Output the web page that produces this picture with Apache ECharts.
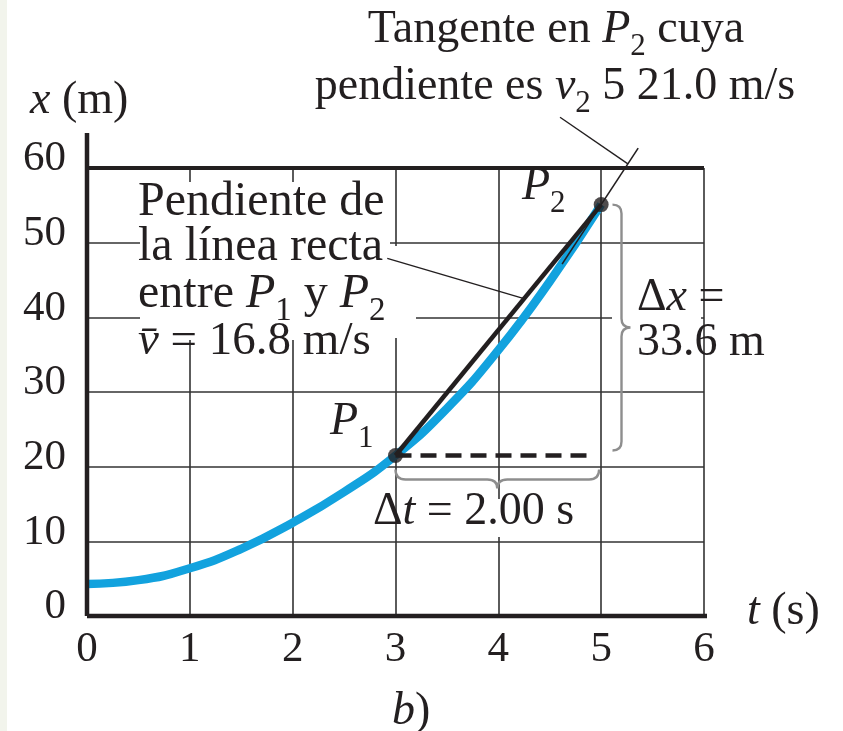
<!DOCTYPE html>
<html>
<head>
<meta charset="utf-8">
<script src="https://cdn.jsdelivr.net/npm/echarts@6/dist/echarts.min.js"></script>
<style>
  html, body { margin: 0; padding: 0; background: #ffffff; }
  #chart { width: 843px; height: 731px; }
</style>
</head>
<body>
<div id="chart"></div>
<script>
// Position x (m) against time t (s)
const curveT = [0, 0.5, 1, 1.5, 2, 2.5, 3, 3.5, 4, 4.5, 5];
const curveX = [4.3, 4.8, 6.4, 9.0, 12.5, 16.6, 21.5, 27.8, 35.6, 44.8, 55.1];

// Marked points P1 and P2 (t, x)
const p1 = [3, 21.5];
const p2 = [5, 55.1];

// Tangent at P2 (m/s) and the time range it is drawn over
const tangentSlope = 21.0;
const tangentRange = [4.62, 5.36];

// Axis ticks
const tTicks = [0, 1, 2, 3, 4, 5, 6];
const xTicks = [0, 10, 20, 30, 40, 50, 60];

const serif = "'Liberation Serif','Times New Roman',serif";
const ink = '#231f20';
const blue = '#12a2de';

const deltaT = p2[0] - p1[0];
const deltaX = p2[1] - p1[1];
const vAvg = deltaX / deltaT;

const curveData = curveT.map((t, i) => [t, curveX[i]]);
const tangentData = tangentRange.map(t => [t, p2[1] + tangentSlope * (t - p2[0])]);

const chart = echarts.init(document.getElementById('chart'), null, { renderer: 'canvas' });

// Curly brace between two pixel points, bulging along unit normal n
function bracePath(a, b, n, d, tip) {
  const L = Math.hypot(b[0] - a[0], b[1] - a[1]);
  const u = [(b[0] - a[0]) / L, (b[1] - a[1]) / L];
  const m = [(a[0] + b[0]) / 2, (a[1] + b[1]) / 2];
  const pt = (p, su, sn) => [p[0] + u[0] * su + n[0] * sn, p[1] + u[1] * su + n[1] * sn];
  const f = p => p[0].toFixed(1) + ' ' + p[1].toFixed(1);
  return 'M' + f(a) + ' Q' + f(pt(a, 0, d)) + ' ' + f(pt(a, d, d)) +
    ' L' + f(pt(m, -d, d)) + ' Q' + f(pt(m, 0, d)) + ' ' + f(pt(m, 0, d + tip)) +
    ' Q' + f(pt(m, 0, d)) + ' ' + f(pt(m, d, d)) +
    ' L' + f(pt(b, -d, d)) + ' Q' + f(pt(b, 0, d)) + ' ' + f(b);
}

// Text made of runs: 'n' upright, 'i' italic, 's' subscript
const measureCtx = document.createElement('canvas').getContext('2d');
function runFont(kind, size) {
  const sz = kind === 's' ? Math.round(size * 0.68) : size;
  return (kind === 'i' ? 'italic ' : '') + sz + 'px ' + serif;
}
function label(x, y, runs, align, size) {
  const sz = size || 46;
  const widths = runs.map(r => { measureCtx.font = runFont(r[0], sz); return measureCtx.measureText(r[1]).width; });
  const total = widths.reduce((a, b) => a + b, 0);
  let cx = align === 'center' ? x - total / 2 : x;
  const children = runs.map((r, k) => {
    const el = {
      type: 'text', x: cx, y: r[0] === 's' ? y + sz * 0.36 : y, z: 20, silent: true,
      style: {
        text: r[1], font: runFont(r[0], sz), fill: ink,
        align: 'left', verticalAlign: 'middle', textAlign: 'left', textVerticalAlign: 'middle'
      }
    };
    cx += widths[k];
    return el;
  });
  return { type: 'group', z: 20, silent: true, children: children };
}

function mask(x, y, w, h) {
  return { type: 'rect', z: 1, silent: true, shape: { x: x, y: y, width: w, height: h }, style: { fill: '#ffffff' } };
}

function plainLine(name, data, width, extra) {
  return Object.assign({
    name: name, type: 'line', data: data, showSymbol: false, symbol: 'none',
    clip: false, silent: true, animation: false,
    lineStyle: { color: ink, width: width }, z: 4
  }, extra || {});
}

const option = {
  animation: false,
  backgroundColor: '#ffffff',
  grid: { left: 87, top: 168, width: 617, height: 448, containLabel: false },
  xAxis: {
    type: 'value', min: tTicks[0], max: tTicks[tTicks.length - 1], interval: 1,
    axisLine: { show: false }, axisTick: { show: false },
    axisLabel: { fontSize: 43, fontFamily: serif, color: ink, margin: 12 },
    splitLine: { show: true, lineStyle: { color: '#333333', width: 1.6 } }
  },
  yAxis: {
    type: 'value', min: xTicks[0], max: xTicks[xTicks.length - 1], interval: 10,
    axisLine: { show: false }, axisTick: { show: false },
    axisLabel: { fontSize: 43, fontFamily: serif, color: ink, margin: 21, verticalAlign: 'bottom', lineHeight: 18 },
    splitLine: { show: true, lineStyle: { color: '#333333', width: 1.6 } }
  },
  series: [
    // frame and axes
    plainLine('top', [[tTicks[0], 60], [tTicks[6], 60]], 4),
    plainLine('tAxis', [[0, 0], [6.34, 0]], 4.5),
    plainLine('xAxis', [[0, 0], [0, 64.7]], 4.5),
    // x(t) curve
    {
      name: 'x(t)', type: 'line', data: curveData, smooth: true, showSymbol: false,
      symbol: 'none', silent: true, z: 3,
      lineStyle: { color: blue, width: 8.5, cap: 'butt' }
    },
    // chord P1-P2
    plainLine('chord', [p1, p2], 4.5, { z: 5 }),
    // tangent at P2
    plainLine('tangent', tangentData, 1.6, { z: 5 }),
    // horizontal dashed line from P1
    plainLine('dt', [p1, [4.94, p1[1]]], 4.5, {
      lineStyle: { color: ink, width: 4.5, type: [16, 9] }
    }),
    // leader lines
    plainLine('leaderChord', [[2.92, 47.9], [4.25, p1[1] + vAvg * (4.25 - p1[0])]], 1.4),
    plainLine('leaderTangent', [[4.6, 66.8], [5.26, p2[1] + tangentSlope * (5.26 - p2[0])]], 1.4),
    // braces
    {
      type: 'custom', coordinateSystem: 'cartesian2d', silent: true, z: 4,
      data: [[p1[0], p1[1]]],
      renderItem: function (params, api) {
        const a1 = api.coord([p1[0], p1[1]]);
        const b1 = api.coord([4.98, p1[1]]);
        const hA = [a1[0], a1[1] + 14];
        const hB = [b1[0], b1[1] + 14];
        const vA = api.coord([5.11, p2[1]]);
        const vB = api.coord([5.11, p1[1]]);
        vB[1] -= 5;
        const st = { fill: 'none', stroke: '#8e8e8e', lineWidth: 2.4 };
        return {
          type: 'group',
          children: [
            { type: 'path', shape: { pathData: bracePath(hA, hB, [0, 1], 10, 9) }, style: st },
            { type: 'path', shape: { pathData: bracePath(vA, vB, [1, 0], 9, 9) }, style: st }
          ]
        };
      }
    },
    // P1 and P2 points
    {
      type: 'scatter', data: [p1, p2], symbol: 'circle', symbolSize: 15, silent: true, z: 6,
      itemStyle: { color: ink }
    }
  ],
  graphic: [
    { type: 'rect', z: 0, silent: true, shape: { x: 0, y: 0, width: 7, height: 731 }, style: { fill: '#f2f4ec' } },
    // white backing behind annotation text
    mask(140, 182, 250, 158),
    mask(388, 246, 10, 92),
    mask(388, 313, 28, 10),
    mask(612, 313, 89, 10),
    mask(490, 499, 14, 38),
    // axis titles
    label(30, 101, [['i', 'x'], ['n', ' (m)']]),
    label(747, 612, [['i', 't'], ['n', ' (s)']]),
    label(392, 712, [['i', 'b'], ['n', ')']]),
    // tangent note
    label(556, 30, [['n', 'Tangente en '], ['i', 'P'], ['s', '2'], ['n', ' cuya']], 'center'),
    label(555, 87, [['n', 'pendiente es '], ['i', 'v'], ['s', '2'], ['n', ' 5 ' + tangentSlope.toFixed(1) + ' m/s']], 'center'),
    // chord note
    label(138, 202, [['n', 'Pendiente de']], 'left', 48),
    label(138, 247, [['n', 'la línea recta']], 'left', 48),
    label(138, 294, [['n', 'entre '], ['i', 'P'], ['s', '1'], ['n', ' y '], ['i', 'P'], ['s', '2']], 'left', 48),
    label(138, 342, [['i', 'v\u0304'], ['n', ' = ' + vAvg.toFixed(1) + ' m/s']], 'left', 47),
    // point names
    label(330, 422, [['i', 'P'], ['s', '1']]),
    label(522, 187, [['i', 'P'], ['s', '2']]),
    // increments
    label(637, 298, [['n', '\u0394'], ['i', 'x'], ['n', ' =']]),
    label(637, 343, [['n', deltaX.toFixed(1) + ' m']]),
    label(373, 512, [['n', '\u0394'], ['i', 't'], ['n', ' = ' + deltaT.toFixed(2) + ' s']])
  ]
};

chart.setOption(option);
</script>
</body>
</html>
